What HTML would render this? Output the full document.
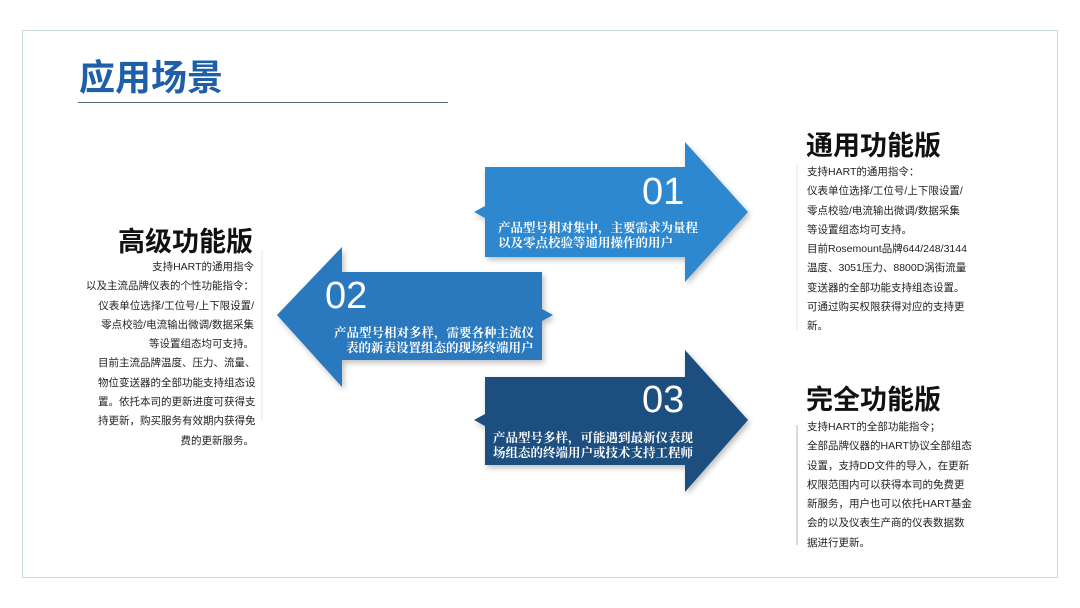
<!DOCTYPE html>
<html><head><meta charset="utf-8"><style>
body{margin:0;width:1080px;height:608px;background:#fff;position:relative;overflow:hidden;font-family:"Liberation Sans","Noto Sans CJK SC",sans-serif;}
.frame{position:absolute;left:22px;top:30px;width:1036px;height:548px;border:1px solid #c8d8dc;box-sizing:border-box;}
.title{position:absolute;left:79px;top:56px;font-size:36px;font-weight:bold;color:#1f5fa8;letter-spacing:0px;line-height:44px;}
.uline{position:absolute;left:78px;top:102px;width:370px;height:1px;background:#4a6a88;}
.h{position:absolute;font-size:27px;font-weight:bold;color:#111;line-height:32px;}
.t{position:absolute;font-size:10.5px;color:#222;line-height:19.3px;white-space:nowrap;}
svg{position:absolute;left:0;top:0;}
.n{font-family:"Liberation Sans",sans-serif;font-size:38px;fill:#fff;}
.c{font-family:"Noto Serif CJK SC",serif;font-size:12.5px;fill:#fff;font-weight:bold;}
</style></head><body>
<div class="frame"></div>
<div class="title">应用场景</div>
<div class="uline"></div>
<svg width="1080" height="608">
<defs><filter id="s" x="-10%" y="-10%" width="130%" height="130%"><feDropShadow dx="2" dy="3" stdDeviation="3" flood-color="#000" flood-opacity="0.25"/></filter></defs>
<polygon filter="url(#s)" fill="#2e88d0" points="485,167 685,167 685,142 748,212 685,282 685,257 485,257 485,218 474,212 485,206"/>
<polygon filter="url(#s)" fill="#2a78be" points="542,272 342,272 342,247 277,315 342,387 342,360 542,360 542,321 553,315 542,309"/>
<polygon filter="url(#s)" fill="#1f4f7f" points="485,377 685,377 685,350 748,420 685,492 685,465 485,465 485,426 474,420 485,414"/>
<text class="n" x="642" y="204">01</text>
<text class="c" x="498" y="232">产品型号相对集中，主要需求为量程</text>
<text class="c" x="498" y="247">以及零点校验等通用操作的用户</text>
<text class="n" x="325" y="308">02</text>
<text class="c" x="334" y="337">产品型号相对多样，需要各种主流仪</text>
<text class="c" x="346" y="352">表的新表设置组态的现场终端用户</text>
<text class="n" x="642" y="412">03</text>
<text class="c" x="493" y="442">产品型号多样，可能遇到最新仪表现</text>
<text class="c" x="493" y="457">场组态的终端用户或技术支持工程师</text>
<line x1="797" y1="165" x2="797" y2="330" stroke="#dde4ea" stroke-width="1"/>
<line x1="262" y1="250" x2="262" y2="420" stroke="#dde4ea" stroke-width="1"/>
<line x1="797" y1="425" x2="797" y2="545" stroke="#aab8c4" stroke-width="1"/>
</svg>
<div class="h" style="left:806px;top:130px;">通用功能版</div>
<div class="t" style="left:807px;top:163px;">支持HART的通用指令：<br>仪表单位选择/工位号/上下限设置/<br>零点校验/电流输出微调/数据采集<br>等设置组态均可支持。<br>目前Rosemount品牌644/248/3144<br>温度、3051压力、8800D涡街流量<br>变送器的全部功能支持组态设置。<br>可通过购买权限获得对应的支持更<br>新。</div>
<div class="h" style="left:118px;top:226px;">高级功能版</div>
<div class="t" style="left:54px;top:258px;width:200px;text-align:right;">支持HART的通用指令<br>以及主流品牌仪表的个性功能指令：<br>仪表单位选择/工位号/上下限设置/<br>零点校验/电流输出微调/数据采集<br>等设置组态均可支持。<br><span style="display:block;text-align:left;padding-left:44px">目前主流品牌温度、压力、流量、<br>物位变送器的全部功能支持组态设<br>置。依托本司的更新进度可获得支<br>持更新，购买服务有效期内获得免</span>费的更新服务。</div>
<div class="h" style="left:806px;top:384px;">完全功能版</div>
<div class="t" style="left:807px;top:418px;">支持HART的全部功能指令；<br>全部品牌仪器的HART协议全部组态<br>设置，支持DD文件的导入，在更新<br>权限范围内可以获得本司的免费更<br>新服务，用户也可以依托HART基金<br>会的以及仪表生产商的仪表数据数<br>据进行更新。</div>
</body></html>
